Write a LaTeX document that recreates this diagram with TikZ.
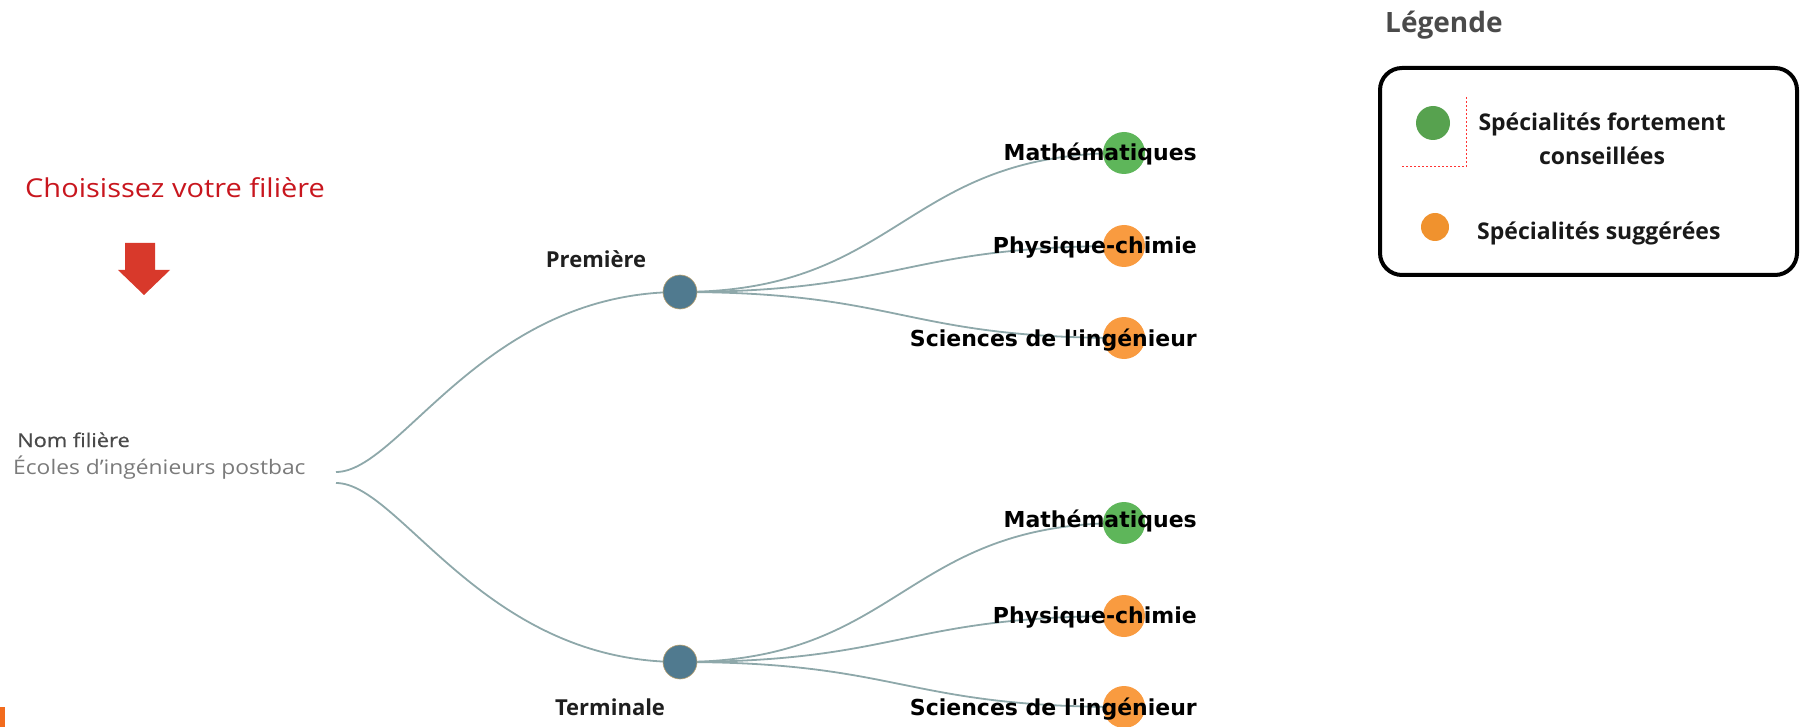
\documentclass[tikz,border=0pt]{standalone}
\usepackage{fontspec}
\setmainfont{Open Sans}
\newfontfamily\labfont{DejaVu Sans}
\newfontfamily\semifont[FakeBold=0.6]{Open Sans}
\usetikzlibrary{backgrounds}
\definecolor{hubc}{HTML}{507A8F}
\definecolor{hubborder}{HTML}{B8A070}
\definecolor{linkc}{HTML}{8EA8AA}
\definecolor{specgreen}{HTML}{5EB65A}
\definecolor{specorange}{HTML}{F99B40}
\definecolor{leggreen}{HTML}{57A24F}
\definecolor{legorange}{HTML}{F0922E}
\definecolor{titlered}{HTML}{C8161E}
\definecolor{arrowred}{HTML}{D8392B}
\definecolor{darkgray}{HTML}{4A4A4A}
\definecolor{midgray}{HTML}{7A7A7A}
\definecolor{markorange}{HTML}{F26B1D}
\begin{document}
\begin{tikzpicture}[x=1pt,y=-1pt,
  link/.style={draw=linkc, line width=1.8pt},
  rootlink/.style={link, out=0, in=180, out distance=64pt, in distance=197pt},
  speclink/.style={link, out=0, in=180, out distance=222pt, in distance=222pt},
  hub/.style={circle, fill=hubc, draw=hubborder, line width=0.6pt, minimum size=34pt, inner sep=0pt},
  specdot/.style={circle, minimum size=42pt, inner sep=0pt},
  speclab/.style={font=\labfont\bfseries\fontsize{22}{26}\selectfont, anchor=base east, inner sep=0pt, text=black},
  stagelab/.style={font=\bfseries\fontsize{22}{26}\selectfont, anchor=base, inner sep=0pt, text=black!88},
  legtext/.style={font=\bfseries\fontsize{23}{28}\selectfont, inner sep=0pt, text=black!90}
]
\useasboundingbox (0,0) rectangle (1804,727);

% left side texts
\node[anchor=base west, inner sep=0pt, text=titlered, font=\fontsize{26}{30}\selectfont] (choose) at (25,198) {\scalebox{1.115}[1]{Choisissez votre filière}};
\fill[arrowred] (125,243) -- (155,243) -- (155,270) -- (170,270) -- (144,295) -- (118,270) -- (125,270) -- cycle;
\node[anchor=base west, inner sep=0pt, text=darkgray, font=\semifont\fontsize{19}{23}\selectfont] (nom) at (17,447) {\scalebox{1.15}[1]{Nom filière}};
\node[anchor=base west, inner sep=0pt, text=midgray, font=\fontsize{20}{24}\selectfont] (ecoles) at (13,474) {\scalebox{1.14}[1]{Écoles d’ingénieurs postbac}};
\coordinate (rootA) at (336,472);
\coordinate (rootB) at (336,483);

% hubs
\node[hub] (prem) at (680,292) {};
\node[hub] (term) at (680,662) {};
\node[stagelab] (premlab) at (596,268) {Première};
\node[stagelab] (termlab) at (610,715) {Terminale};

% specialty dots
\node[specdot, fill=specgreen] (m1) at (1124,153) {};
\node[specdot, fill=specorange] (p1) at (1124,246) {};
\node[specdot, fill=specorange] (s1) at (1124,338) {};
\node[specdot, fill=specgreen] (m2) at (1124,523) {};
\node[specdot, fill=specorange] (p2) at (1124,616) {};
\node[specdot, fill=specorange] (s2) at (1124,707) {};

% connectors
\begin{pgfonlayer}{background}
\draw[rootlink] (rootA) to (prem.center);
\draw[rootlink] (rootB) to (term.center);
\draw[speclink] (prem.center) to (m1.center);
\draw[speclink] (prem.center) to (p1.center);
\draw[speclink] (prem.center) to (s1.center);
\draw[speclink] (term.center) to (m2.center);
\draw[speclink] (term.center) to (p2.center);
\draw[speclink] (term.center) to (s2.center);
\end{pgfonlayer}

% specialty labels
\node[speclab] (lm1) at (1197,161) {Mathématiques};
\node[speclab] (lp1) at (1197,254) {Physique-chimie};
\node[speclab] (ls1) at (1197,346) {Sciences de l'ingénieur};
\node[speclab] (lm2) at (1197,527) {Mathématiques};
\node[speclab] (lp2) at (1197,623) {Physique-chimie};
\node[speclab] (ls2) at (1197,715) {Sciences de l'ingénieur};

% legend
\node[anchor=base west, inner sep=0pt, text=darkgray, font=\bfseries\fontsize{28}{32}\selectfont] (legtitle) at (1385,33) {Légende};
\node[draw=black, line width=4pt, rounded corners=22pt, minimum width=417pt, minimum height=207pt, inner sep=0pt] (legbox) at (1588.5,171.5) {};
\node[circle, fill=leggreen, minimum size=34pt, inner sep=0pt] (lgdot) at (1433,123) {};
\node[circle, fill=legorange, minimum size=28pt, inner sep=0pt] (lodot) at (1435,227) {};
\node[legtext, anchor=base] (lgtxt1) at (1602,131) {Spécialités fortement};
\node[legtext, anchor=base] (lgtxt2) at (1602,165) {conseillées};
\node[legtext, anchor=base west] (lotxt) at (1477,240) {Spécialités suggérées};
\draw[red!80, line width=1pt, dash pattern=on 2pt off 2pt] (1466,97) -- (1466,167) -- (1402,167);

% small mark bottom left
\fill[markorange] (0,707) rectangle (5,727);
\end{tikzpicture}
\end{document}
